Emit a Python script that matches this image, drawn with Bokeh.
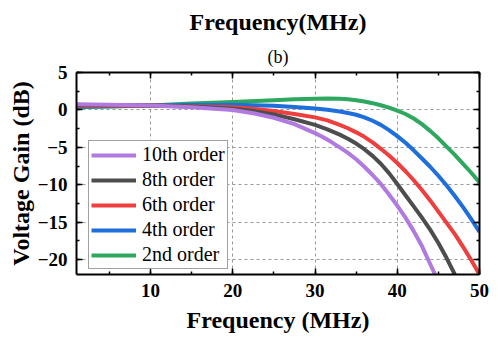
from bokeh.plotting import figure
from bokeh.models import (LinearAxis, SingleIntervalTicker, Range1d, Title,
                          Legend, LegendItem, CustomJSTickFormatter)
from bokeh.embed import file_html
from bokeh.resources import INLINE

# ---- data ----
freq_10th = [1, 5, 10, 15, 20, 22.5, 25, 27.5, 30, 31, 32, 33, 34, 35, 36, 37, 38, 39, 40, 41, 42, 43, 44, 44.6, 45.2]
gain_10th = [0.76, 0.7, 0.6, 0.35, 0.0, -0.45, -1.05, -1.9, -3.1, -3.65, -4.3, -5.0, -5.75, -6.6, -7.6, -8.7, -9.9, -11.3, -12.8, -14.4, -16.2, -18.2, -20.6, -22.0, -23.4]

freq_8th = [1, 5, 10, 15, 20, 22.5, 25, 27.5, 30, 31.5, 33, 34, 35, 36, 37, 38, 39, 40, 41, 42, 43, 44, 45, 46, 47, 47.5]
gain_8th = [0.65, 0.62, 0.6, 0.45, 0.15, -0.15, -0.6, -1.25, -2.0, -2.6, -3.3, -3.85, -4.5, -5.25, -6.15, -7.2, -8.45, -9.9, -11.4, -12.9, -14.4, -16.0, -17.8, -19.8, -22.0, -23.2]

freq_6th = [1, 5, 10, 15, 20, 22.5, 25, 27.5, 30, 31.5, 33, 34, 35, 36, 37, 38, 39, 40, 41, 42, 43, 44, 45, 46, 47, 48, 49, 50]
gain_6th = [0.55, 0.55, 0.6, 0.5, 0.35, 0.15, -0.15, -0.55, -1.0, -1.4, -2.0, -2.45, -3.0, -3.6, -4.35, -5.2, -6.1, -7.1, -8.2, -9.4, -10.7, -12.1, -13.6, -15.1, -16.6, -18.3, -20.1, -22.0]

freq_4th = [1, 5, 10, 15, 20, 25, 27.5, 30, 31.5, 33, 34, 35, 36, 37, 38, 39, 40, 41, 42, 43, 44, 45, 46, 47, 48, 49, 50]
gain_4th = [0.45, 0.5, 0.6, 0.65, 0.7, 0.55, 0.4, 0.2, 0.02, -0.22, -0.42, -0.65, -1.0, -1.45, -2.0, -2.7, -3.5, -4.4, -5.4, -6.5, -7.6, -8.8, -10.1, -11.5, -13.0, -14.6, -16.3]

freq_2nd = [1, 5, 10, 15, 20, 25, 27.5, 30, 31.5, 33, 34, 35, 36, 37, 38, 39, 40, 41, 42, 43, 44, 45, 46, 47, 48, 49, 50]
gain_2nd = [0.35, 0.45, 0.6, 0.85, 1.05, 1.3, 1.42, 1.5, 1.52, 1.48, 1.42, 1.3, 1.12, 0.9, 0.62, 0.3, -0.1, -0.55, -1.15, -1.9, -2.8, -3.8, -4.9, -6.0, -7.2, -8.4, -9.7]

series_names = ["10th order", "8th order", "6th order", "4th order", "2nd order"]
series_colors = ["#B07AE0", "#4D4D4D", "#EF3E3E", "#1E6EDC", "#2EA85F"]

x_major = 10
y_major = 5

SERIF = "Liberation Serif"

p = figure(width=490, height=336, x_range=Range1d(1, 50), y_range=Range1d(-22, 5),
           output_backend="svg", toolbar_location=None,
           min_border_left=76, min_border_right=11, min_border_top=72, min_border_bottom=62)
p.outline_line_color = None
p.background_fill_color = "white"
p.border_fill_color = "white"

xt = SingleIntervalTicker(interval=x_major, num_minor_ticks=2)
yt = SingleIntervalTicker(interval=y_major, num_minor_ticks=2)

def style_axis(ax, labels=True):
    ax.axis_line_width = 2
    ax.axis_line_color = "black"
    ax.major_tick_in = 6
    ax.major_tick_out = 0
    ax.minor_tick_in = 3
    ax.minor_tick_out = 0
    ax.major_tick_line_width = 1.5
    ax.minor_tick_line_width = 1.5
    ax.major_tick_line_color = "black"
    ax.minor_tick_line_color = "black"
    if labels:
        ax.major_label_text_font = SERIF
        ax.major_label_text_font_style = "bold"
        ax.major_label_text_font_size = "19px"
        ax.major_label_text_color = "black"
    else:
        ax.formatter = CustomJSTickFormatter(code="return ''")
        ax.major_label_text_font_size = "0px"
        ax.major_label_standoff = 0

p.xaxis.ticker = xt
p.yaxis.ticker = yt
style_axis(p.xaxis[0])
style_axis(p.yaxis[0])
p.xaxis.major_label_standoff = 9
p.yaxis.major_label_standoff = 9
p.xaxis.axis_label = "Frequency (MHz)"
p.yaxis.axis_label = "Voltage Gain (dB)"
for ax in (p.xaxis[0], p.yaxis[0]):
    ax.axis_label_text_font = SERIF
    ax.axis_label_text_font_style = "bold"
    ax.axis_label_text_font_size = "24px"
    ax.axis_label_text_color = "black"
p.xaxis.axis_label_standoff = 7
p.yaxis.axis_label_standoff = 1

top_ax = LinearAxis(ticker=SingleIntervalTicker(interval=x_major, num_minor_ticks=2))
right_ax = LinearAxis(ticker=SingleIntervalTicker(interval=y_major, num_minor_ticks=2))
style_axis(top_ax, labels=False)
style_axis(right_ax, labels=False)
p.add_layout(top_ax, "above")
p.add_layout(right_ax, "right")

p.xgrid.ticker = xt
p.ygrid.ticker = yt
for g in (p.xgrid[0], p.ygrid[0]):
    g.grid_line_color = "#999999"
    g.grid_line_dash = "3 3"
    g.grid_line_width = 1

sub = Title(text="(b)", align="center", text_font=SERIF, text_font_size="18px",
            text_font_style="normal", text_color="black", standoff=12)
main = Title(text="Frequency(MHz)", align="center", text_font=SERIF, text_font_size="24px",
             text_font_style="bold", text_color="black", standoff=8)
p.add_layout(sub, "above")
p.add_layout(main, "above")

xs = [freq_10th, freq_8th, freq_6th, freq_4th, freq_2nd]
ys = [gain_10th, gain_8th, gain_6th, gain_4th, gain_2nd]
renderers = {}
for i in reversed(range(5)):
    r = p.line(xs[i], ys[i], line_width=4, line_color=series_colors[i], line_join="round")
    renderers[i] = r

legend = Legend(items=[LegendItem(label=series_names[i], renderers=[renderers[i]]) for i in range(5)],
                location=(12, 5))
legend.label_text_font = SERIF
legend.label_text_font_size = "20px"
legend.label_text_color = "black"
legend.glyph_width = 45
legend.glyph_height = 18
legend.label_height = 18
legend.label_standoff = 6
legend.spacing = 2
legend.padding = 2
legend.margin = 0
legend.border_line_color = "#444444"
legend.border_line_width = 1
legend.background_fill_color = "white"
legend.background_fill_alpha = 1
p.add_layout(legend, "center")

open("out.html", "w").write(file_html(p, INLINE))
